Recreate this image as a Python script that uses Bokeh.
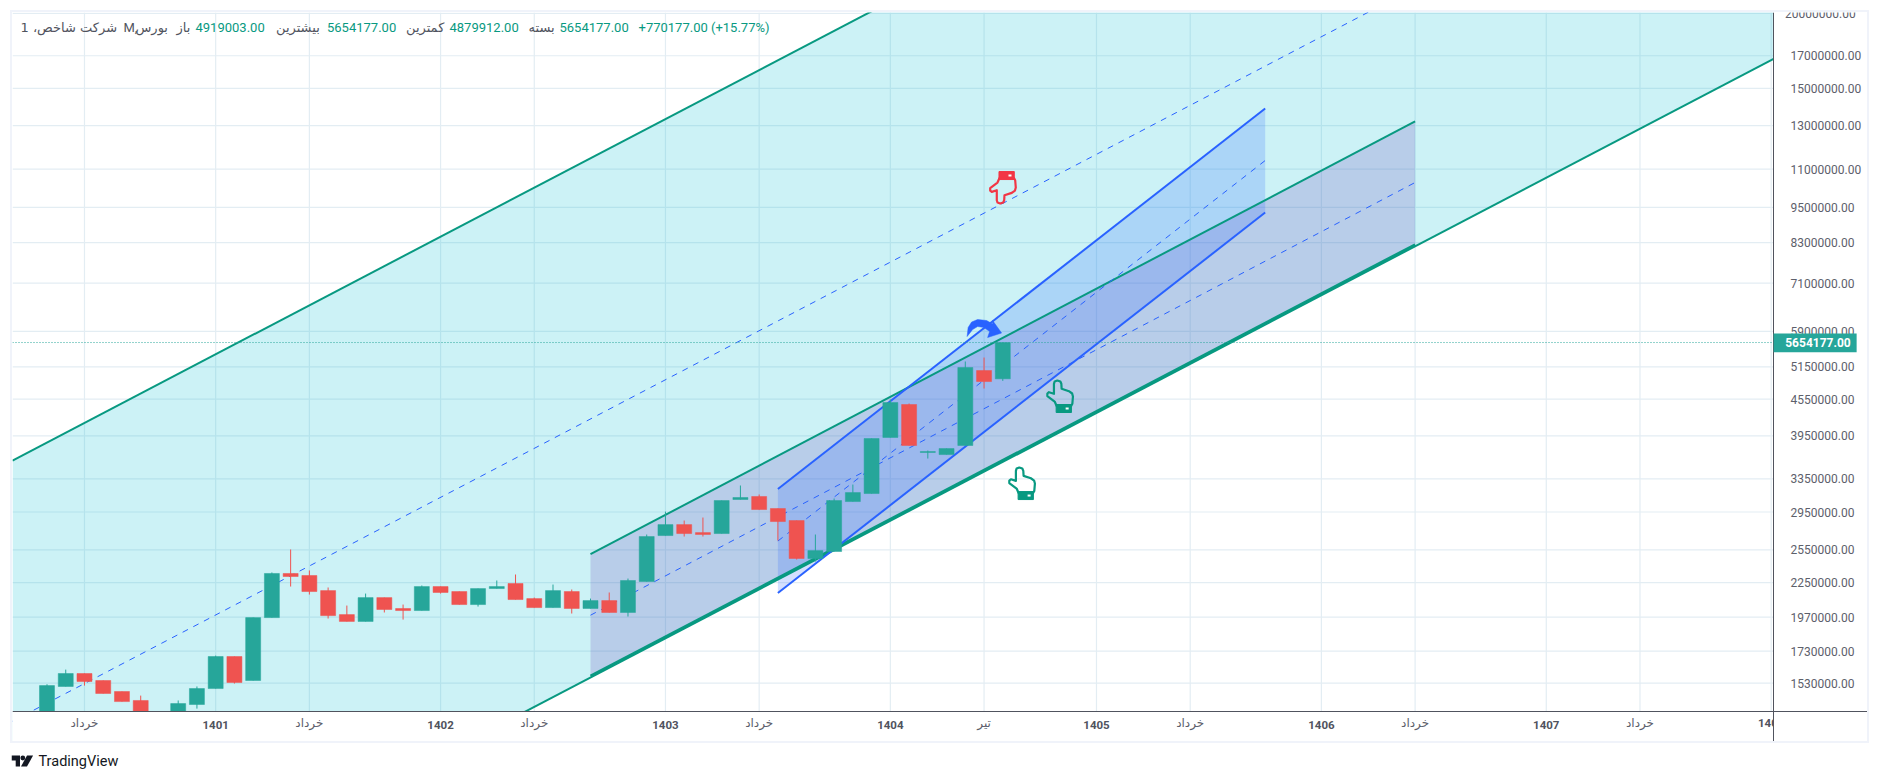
import math
from bokeh.plotting import figure
from bokeh.layouts import column
from bokeh.embed import file_html
from bokeh.resources import INLINE
from bokeh.core.properties import value
from bokeh.models import Range1d, FixedTicker, PrintfTickFormatter, Label, ColumnDataSource

# ---- candles (monthly bars) ----
opens = [1.33e6,1.510e6,1.587e6,1.545e6,1.481e6,1.431e6,1.30e6,1.34e6,1.409e6,1.498e6,1.694e6,1.545e6,1.967e6,
         2.330e6,2.312e6,2.182e6,1.990e6,1.938e6,2.124e6,2.037e6,2.021e6,2.216e6,2.174e6,2.068e6,2.199e6,2.242e6,
         2.116e6,2.044e6,2.174e6,2.037e6,2.100e6,2.006e6,2.259e6,2.695e6,2.811e6,2.726e6,2.716e6,3.095e6,3.131e6,
         2.990e6,2.855e6,2.468e6,2.535e6,3.071e6,3.167e6,3.927e6,4.457e6,3.707e6,3.678e6,3.808e6,5.078e6,4919003]
highs = [1.523e6,1.611e6,1.587e6,1.545e6,1.481e6,1.458e6,1.33e6,1.431e6,1.510e6,1.700e6,1.694e6,1.967e6,2.339e6,
         2.555e6,2.357e6,2.208e6,2.060e6,2.157e6,2.124e6,2.068e6,2.225e6,2.216e6,2.174e6,2.199e6,2.268e6,2.321e6,
         2.124e6,2.233e6,2.191e6,2.116e6,2.166e6,2.285e6,2.706e6,2.955e6,2.855e6,2.888e6,3.083e6,3.266e6,3.155e6,
         2.990e6,2.855e6,2.706e6,3.107e6,3.278e6,3.912e6,4.543e6,4.474e6,3.735e6,3.764e6,5.257e6,5.338e6,5654177]
lows = [1.32e6,1.510e6,1.515e6,1.470e6,1.425e6,1.36e6,1.29e6,1.33e6,1.387e6,1.498e6,1.527e6,1.545e6,1.967e6,
        2.216e6,2.149e6,1.960e6,1.938e6,1.938e6,2.006e6,1.952e6,2.021e6,2.157e6,2.068e6,2.052e6,2.199e6,2.108e6,
        2.044e6,2.044e6,1.998e6,2.037e6,2.006e6,1.975e6,2.259e6,2.695e6,2.685e6,2.685e6,2.716e6,3.095e6,2.978e6,
        2.644e6,2.458e6,2.439e6,2.535e6,3.071e6,3.167e6,3.927e6,3.808e6,3.622e6,3.678e6,3.808e6,4.739e6,4879912]
closes = [1.515e6,1.587e6,1.539e6,1.470e6,1.425e6,1.36e6,1.33e6,1.414e6,1.498e6,1.694e6,1.533e6,1.967e6,2.330e6,
          2.303e6,2.174e6,1.982e6,1.938e6,2.124e6,2.029e6,2.021e6,2.216e6,2.166e6,2.068e6,2.199e6,2.216e6,2.108e6,
          2.044e6,2.182e6,2.037e6,2.100e6,2.006e6,2.268e6,2.685e6,2.811e6,2.716e6,2.706e6,3.083e6,3.119e6,2.978e6,
          2.844e6,2.468e6,2.544e6,3.083e6,3.179e6,3.912e6,4.491e6,3.808e6,3.721e6,3.764e6,5.137e6,4.868e6,5654177]
last_price = 5654177

# ---- channels: (bar index, price) ----
PANE_LEFT = -1.841
PANE_RIGHT = 92.13
SCALE_RIGHT = 97.14
PRICE_TOP = 20.07e6
PRICE_AXIS = 1.372e6
PRICE_BOTTOM = 1.2225e6

wide_x = [PANE_LEFT, PANE_RIGHT]
wide_upper = [3.594e6, 123.3e6]
wide_mid = [1.3214e6, 45.33e6]
wide_lower = [489.7e3, 16.80e6]

mid_x = [29, 73]
mid_upper = [2.509e6, 13.21e6]
mid_mid = [1.985e6, 10.45e6]
mid_lower = [1.572e6, 8.236e6]

narrow_x = [39, 65]
narrow_upper = [3.222e6, 13.88e6]
narrow_mid = [2.639e6, 11.37e6]
narrow_lower = [2.162e6, 9.313e6]

# ---- axes ----
price_ticks = [17000000,15000000,13000000,11000000,9500000,8300000,7100000,5900000,5150000,4550000,
               3950000,3350000,2950000,2550000,2250000,1970000,1730000,1530000]
top_tick = 20000000
year_ticks = [9,21,33,45,56,68,80]
year_labels = ["1401","1402","1403","1404","1405","1406","1407"]
month_ticks = [2,14,26,38,50,61,73,85]
month_labels = ["خرداد","خرداد","خرداد","خرداد","تیر","خرداد","خرداد","خرداد"]
grid_ticks = sorted(year_ticks + month_ticks + [92])
time_label_price = 1.310e6

GREEN = "#26a69a"
RED = "#ef5350"
LINE_GREEN = "#089981"
BLUE = "#2962ff"
PX_PER_BAR = 18.74
PX_PER_LN = 260.5
AXIS_C = "#50535e"
TEXT_C = "#5d606b"
GRID_C = "#e3edf3"
AR = "DejaVu Sans"

p = figure(width=1855, height=729, output_backend="svg", toolbar_location=None,
           y_axis_type="log", y_axis_location="right",
           x_range=Range1d(PANE_LEFT, SCALE_RIGHT), y_range=Range1d(PRICE_BOTTOM, PRICE_TOP),
           min_border=0, margin=(12, 0, 0, 12), background_fill_color="white", border_fill_color="white")
p.styles = {"outline": "2px solid #f0f3fa"}
p.outline_line_color = None
p.grid.visible = False

# price scale and time scale, sitting on the pane edges
p.yaxis.fixed_location = PANE_RIGHT
p.yaxis.ticker = FixedTicker(ticks=price_ticks)
p.yaxis.formatter = PrintfTickFormatter(format="%.2f")
p.yaxis.major_tick_line_color = None
p.yaxis.minor_tick_line_color = None
p.yaxis.axis_line_color = AXIS_C
p.yaxis.major_label_text_font = "Roboto"
p.yaxis.major_label_text_font_size = "12px"
p.yaxis.major_label_text_color = TEXT_C
p.yaxis.major_label_standoff = 11

p.xaxis.fixed_location = PRICE_AXIS
p.xaxis.ticker = FixedTicker(ticks=year_ticks)
p.xaxis.major_label_overrides = {t: s for t, s in zip(year_ticks, year_labels)}
p.xaxis.major_tick_line_color = None
p.xaxis.minor_tick_line_color = None
p.xaxis.axis_line_color = AXIS_C
p.xaxis.major_label_text_font = "Roboto"
p.xaxis.major_label_text_font_style = "bold"
p.xaxis.major_label_text_font_size = "11.5px"
p.xaxis.major_label_text_color = AXIS_C
p.xaxis.major_label_standoff = 4

# grid limited to the pane
grid_prices = [top_tick] + price_ticks
p.segment(grid_ticks, [PRICE_AXIS] * len(grid_ticks), grid_ticks, [PRICE_TOP] * len(grid_ticks),
          line_color=GRID_C, line_width=1.2, level="underlay")
p.segment([PANE_LEFT] * len(grid_prices), grid_prices, [PANE_RIGHT] * len(grid_prices), grid_prices,
          line_color=GRID_C, line_width=1.2, level="underlay")

# channel fills
p.varea(wide_x, wide_lower, wide_upper, fill_color="#00bcd4", fill_alpha=0.2)
p.varea(mid_x, mid_lower, mid_upper, fill_color="#673ab7", fill_alpha=0.2)
p.varea(narrow_x, narrow_lower, narrow_upper, fill_color=BLUE, fill_alpha=0.2)

# channel lines
for ys in (wide_upper, wide_lower):
    p.line(wide_x, ys, line_color=LINE_GREEN, line_width=2)
p.line(wide_x, wide_mid, line_color=BLUE, line_width=1, line_dash="6 6")
p.line(mid_x, mid_upper, line_color=LINE_GREEN, line_width=2)
p.line(mid_x, mid_lower, line_color=LINE_GREEN, line_width=2.6)
p.line(mid_x, mid_mid, line_color=BLUE, line_width=1, line_dash="6 6")
for ys in (narrow_upper, narrow_lower):
    p.line(narrow_x, ys, line_color=BLUE, line_width=2)
p.line(narrow_x, narrow_mid, line_color=BLUE, line_width=1, line_dash="6 6")

# candles
idx = list(range(len(closes)))
colors = [GREEN if c >= o else RED for o, c in zip(opens, closes)]
src = ColumnDataSource(dict(x=idx, o=opens, h=highs, l=lows, c=closes, color=colors,
                            top=[max(a, b) for a, b in zip(opens, closes)],
                            bot=[min(a, b) for a, b in zip(opens, closes)]))
p.segment("x", "h", "x", "l", source=src, line_color="color", line_width=1)
p.vbar("x", 0.8, "bot", "top", source=src, fill_color="color", line_color="color", line_width=0.5)

# last price line
p.line([PANE_LEFT, PANE_RIGHT], [last_price, last_price], line_color=GREEN, line_width=1, line_dash="1 2")


# hand / arrow drawings: anchor (bar, price) + outline in px from that anchor
def place(ai, ap, pts):
    return ([ai + dx / PX_PER_BAR for dx, dy in pts],
            [ap * math.exp(-dy / PX_PER_LN) for dx, dy in pts])


HAND = [(7.3, 3.3), (8, 1), (10.7, 0), (13.7, 1), (14.7, 3.3), (15, 8.3), (22.3, 10.7), (25.5, 13), (26.3, 16),
        (25.7, 23.3), (24.5, 25.5), (10, 25.5), (8, 21), (0.7, 15.5), (0.7, 13), (2.3, 11.7), (7.3, 13.3)]
CUFF = [(9.5, 24), (24.8, 24), (24.8, 32), (9.5, 32)]
DOT = [(19, 27), (22, 27), (22, 29), (19, 29)]
ARROW = [(0.5, 18), (1.5, 9), (5, 3.5), (11, 1), (20, 2), (26, 5.5), (26, 2), (35, 14.5), (21, 19), (23, 13),
         (17.5, 9), (11, 8), (6, 11), (0.5, 18)]


def flip(pts):
    return [(x, 32 - y) for x, y in pts]


def hand(ai, ap, color, flipped=False):
    f = flip if flipped else (lambda q: q)
    xs, ys = place(ai, ap, f(HAND))
    p.patch(xs + xs[:1], ys + ys[:1], fill_color=None, line_color=color, line_width=2.2, line_join="round")
    xs, ys = place(ai, ap, f(CUFF))
    p.patch(xs, ys, fill_color=color, line_color=color, line_width=1, line_join="round")
    xs, ys = place(ai, ap, f(DOT))
    p.patch(xs, ys, fill_color="white", line_color=None)


hand(53.34, 4.887e6, LINE_GREEN)
hand(51.31, 3.499e6, LINE_GREEN)
hand(50.29, 10.90e6, "#f23645", flipped=True)
xs, ys = place(49.07, 6.200e6, ARROW)
p.patch(xs, ys, fill_color=BLUE, line_color=BLUE, line_width=0.5, line_join="round")

# time scale strip hides what runs below the pane
p.quad(left=[PANE_LEFT], right=[SCALE_RIGHT], bottom=[PRICE_BOTTOM], top=[PRICE_AXIS],
       fill_color="white", line_color=None)

# month names on the time scale; last year label cut off by the price scale
p.text(month_ticks, [time_label_price] * len(month_ticks), text=month_labels, text_font=value(AR),
       text_font_size="12px", text_color=TEXT_C, text_align="center", text_baseline="middle")
p.text([92], [time_label_price], text=["1408"], text_font=value("Roboto"), text_font_style="bold",
       text_font_size="11.5px", text_color=AXIS_C, text_align="center", text_baseline="middle")
p.quad(left=[PANE_RIGHT], right=[SCALE_RIGHT], bottom=[PRICE_BOTTOM], top=[PRICE_AXIS * 0.999],
       fill_color="white", line_color=None)

# top price label, cut off by the pane top
p.text([92.74], [top_tick], text=["20000000.00"], text_font=value("Roboto"), text_font_size="12px",
       text_color=TEXT_C, text_baseline="middle")

# last price tag on the price scale
tag_bottom, tag_top = last_price * math.exp(-9.7 / PX_PER_LN), last_price * math.exp(9 / PX_PER_LN)
p.quad(left=[PANE_RIGHT], right=[96.56], bottom=[tag_bottom], top=[tag_top], fill_color=GREEN, line_color=None,
       level="annotation")
p.add_layout(Label(x=PANE_RIGHT + 0.62, y=last_price, text="5654177.00", text_color="white", text_font="Roboto",
                   text_font_size="12px", text_font_style="bold", text_baseline="middle", level="overlay"))


# header texts, canvas coordinates of this figure
def lab(x, text, color=AXIS_C, font="Roboto"):
    p.add_layout(Label(x=x, y=15, x_units="canvas", y_units="canvas", text=text, text_color=color,
                       text_font_size="13px", text_font=font, text_baseline="middle"))


lab(8, "1 ،شرکت شاخص", font=AR)
lab(111, "M,")
lab(123, "بورس", font=AR)
lab(164, "باز", font=AR)
lab(183, "4919003.00", LINE_GREEN)
lab(263.5, "بیشترین", font=AR)
lab(314.5, "5654177.00", LINE_GREEN)
lab(393.5, "کمترین", font=AR)
lab(437, "4879912.00", LINE_GREEN)
lab(516, "بسته", font=AR)
lab(547, "5654177.00", LINE_GREEN)
lab(626, "+770177.00 (+15.77%)", LINE_GREEN)

# footer with the logo
foot = figure(width=200, height=30, output_backend="svg", toolbar_location=None,
              x_range=Range1d(0, 200), y_range=Range1d(30, 0), min_border=0, margin=(4, 0, 0, 11))
foot.axis.visible = False
foot.grid.visible = False
foot.outline_line_color = None
logo_c = "#131722"
foot.patch([0, 8.5, 8.5, 4.2, 4.2, 0], [10, 10, 21, 21, 15, 15], fill_color=logo_c, line_color=None)
foot.patch([15.5, 21.6, 15.5, 9.5], [10, 10, 21, 21], fill_color=logo_c, line_color=None)
foot.circle([11.3], [12.5], radius=2.4, fill_color=logo_c, line_color=None)
foot.text([27], [15.5], text=["TradingView"], text_font=value("Roboto"), text_font_size="14.5px",
          text_color=logo_c, text_baseline="middle")

open("out.html", "w").write(file_html(column(p, foot, spacing=0), INLINE))
